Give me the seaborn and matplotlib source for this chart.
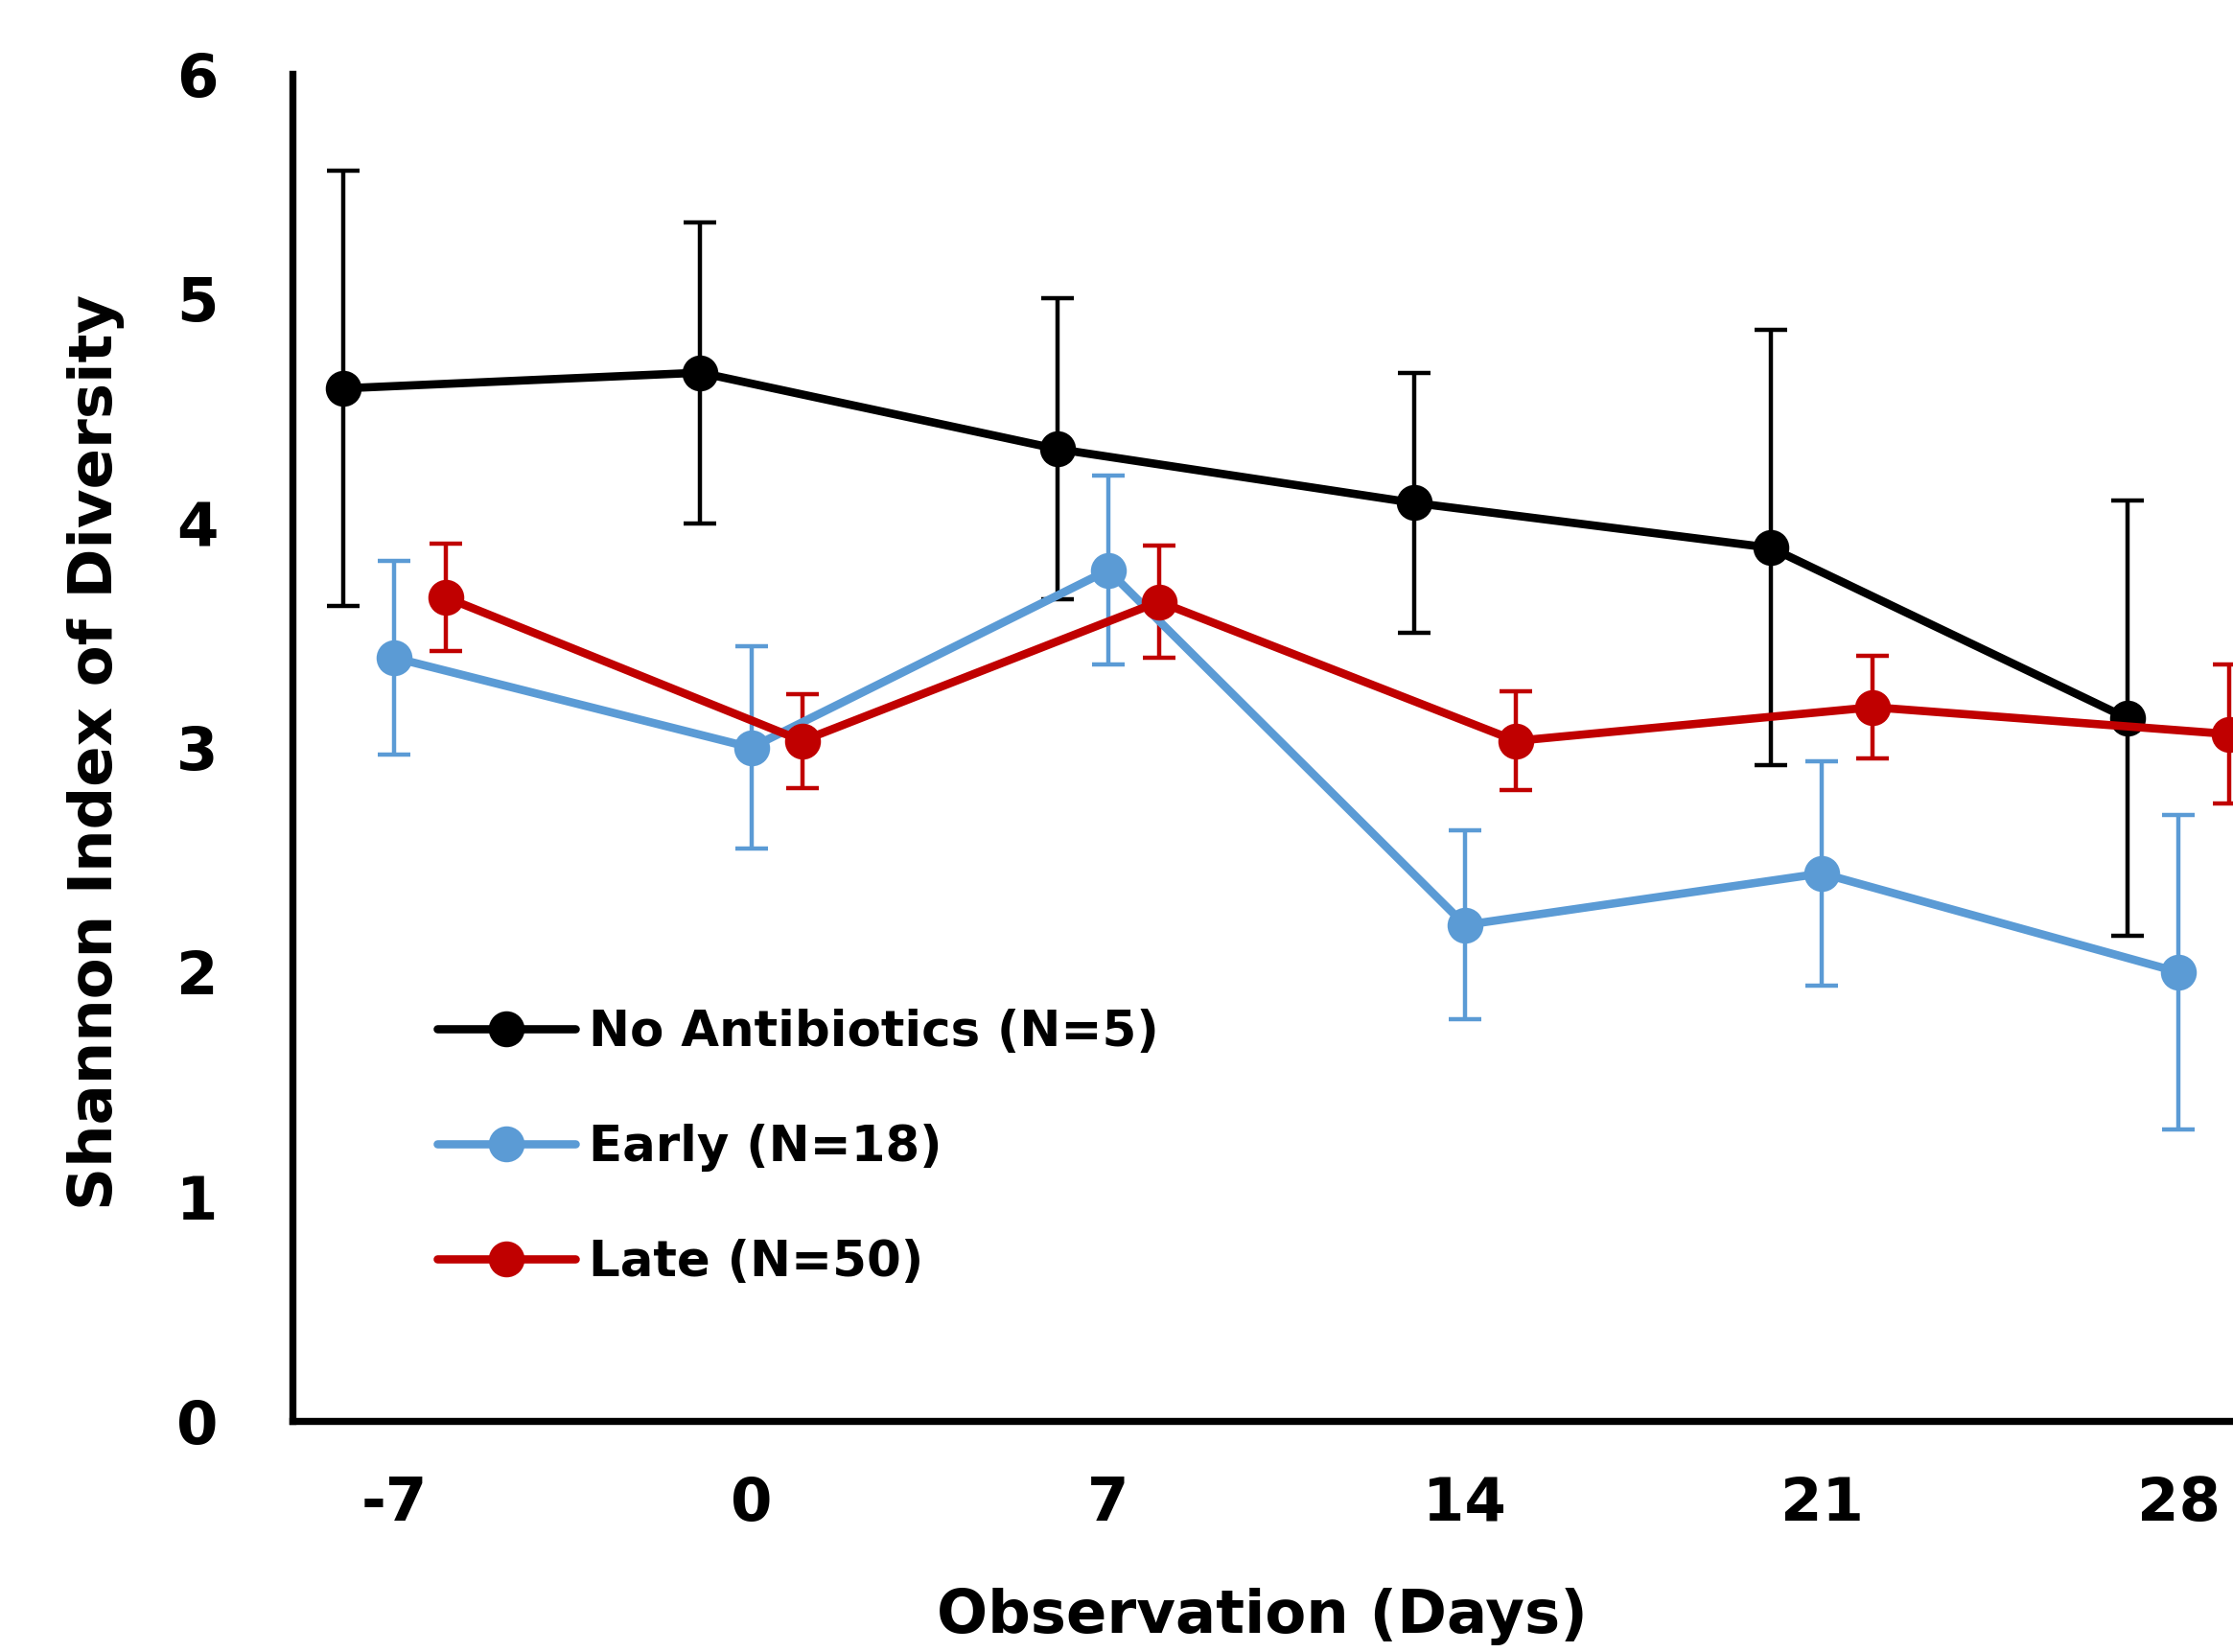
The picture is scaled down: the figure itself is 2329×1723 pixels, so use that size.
import numpy as np
import pandas as pd
import matplotlib
matplotlib.use("Agg")
import matplotlib.pyplot as plt
import seaborn as sns

# ---- data ----
days = [-7, 0, 7, 14, 21, 28]
series_names = ["No Antibiotics (N=5)", "Early (N=18)", "Late (N=50)"]
no_abx_mean = [4.60, 4.67, 4.33, 4.09, 3.89, 3.13]
no_abx_err = [0.97, 0.67, 0.67, 0.58, 0.97, 0.97]
early_mean = [3.40, 3.00, 3.79, 2.21, 2.44, 2.00]
early_err = [0.43, 0.45, 0.42, 0.42, 0.50, 0.70]
late_mean = [3.67, 3.03, 3.65, 3.03, 3.18, 3.06]
late_err = [0.24, 0.21, 0.25, 0.22, 0.23, 0.31]
y_ticks = [0, 1, 2, 3, 4, 5, 6]

colors = ["#000000", "#5B9BD5", "#C00000"]
offsets = [-1.0, 0.0, 1.0]

means = [no_abx_mean, early_mean, late_mean]
errs = [no_abx_err, early_err, late_err]

rows = []
for name, m, e, off in zip(series_names, means, errs, offsets):
    for d, mv, ev in zip(days, m, e):
        rows.append({"series": name, "x": d + off, "day": d, "mean": mv, "err": ev})
df = pd.DataFrame(rows)

sns.set_theme(style="white")
plt.rcParams['font.family'] = ['DejaVu Sans']
plt.rcParams['text.color'] = 'black'

W, H = 2329, 1723
fig = plt.figure(figsize=(W / 100, H / 100), dpi=100)
ax = fig.add_axes([0.131, 0.1397, 0.8903, 0.8155])

# error bars
for name, col in zip(series_names, colors):
    sub = df[df["series"] == name]
    ax.errorbar(sub["x"], sub["mean"], yerr=sub["err"], fmt="none",
                ecolor=col, elinewidth=3.2, capsize=12, capthick=3.2, zorder=2)

sns.lineplot(data=df, x="x", y="mean", hue="series", hue_order=series_names,
             palette=colors, marker="o", markersize=27, markeredgewidth=0,
             linewidth=6.2, ax=ax, zorder=3, sort=True, errorbar=None)

ax.set_xlim(-9, 30)
ax.set_ylim(0, 6)
ax.set_xticks(days)
ax.set_xticklabels([str(d) for d in days])
ax.set_yticks(y_ticks)
ax.set_yticklabels([str(t) for t in y_ticks])

for s in ["top", "right"]:
    ax.spines[s].set_visible(False)
for s in ["left", "bottom"]:
    ax.spines[s].set_color("black")
    ax.spines[s].set_linewidth(5.3)

ax.tick_params(axis="both", length=0, labelsize=45, colors="black")
ax.tick_params(axis="y", pad=56)
ax.tick_params(axis="x", pad=41)
for lab in ax.get_xticklabels() + ax.get_yticklabels():
    lab.set_fontweight("bold")

ax.set_xlabel("")
ax.set_ylabel("")
fig.text(1316 / W, 1 - 1686 / H, "Observation (Days)", ha="center", va="center",
         fontsize=45, fontweight="bold", color="black")
fig.text(100 / W, 1 - 528 * 1.4853 / H, "Shannon Index of Diversity", ha="center", va="center",
         rotation=90, fontsize=45, fontweight="bold", color="black")

leg = ax.legend(loc="upper left", bbox_to_anchor=(456 / W, 1 - 1052 / H),
                bbox_transform=fig.transFigure, frameon=False,
                prop={"size": 37, "weight": "bold"}, handlelength=2.8,
                handletextpad=0.28, labelspacing=1.36, borderpad=0, borderaxespad=0)
for h in leg.legend_handles:
    h.set_markersize(27)
    h.set_linewidth(6.2)
for t in leg.get_texts():
    t.set_color("black")

fig.savefig("out.png", dpi=100)
